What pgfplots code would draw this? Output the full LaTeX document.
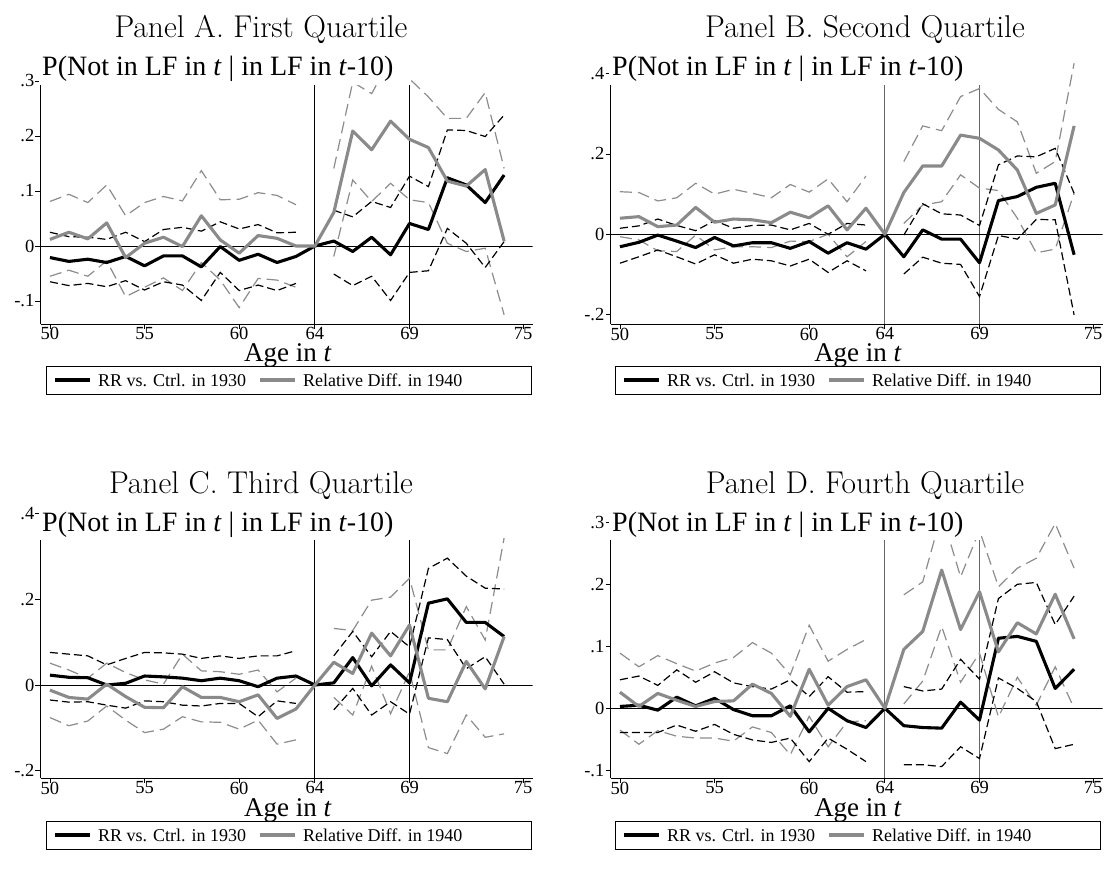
\documentclass[border=0pt]{standalone}
\usepackage{pgfplots}
\pgfplotsset{compat=1.18}
\usepackage{pgfplotstable}
\usepackage{fontspec}
\setmainfont{Liberation Serif}
\newcommand\lmtitle{\fontfamily{lmr}\fontsize{31.5}{34}\selectfont}
\newcommand\ytfont{\fontsize{28}{30}\selectfont}
\newcommand\xlfont{\fontsize{27}{29}\selectfont}
\newcommand\lgfont{\fontsize{18}{20}\selectfont}
\definecolor{sgray}{RGB}{138,138,138}
\definecolor{dgray}{RGB}{140,140,140}

% age b g bu bl gu gl
\pgfplotstableread{
age b g bu bl gu gl
50 -0.021 0.012 0.025 -0.065 0.081 -0.055
51 -0.028 0.025 0.017 -0.072 0.094 -0.044
52 -0.024 0.013 0.016 -0.068 0.079 -0.055
53 -0.030 0.042 0.012 -0.074 0.111 -0.027
54 -0.019 -0.021 0.025 -0.063 0.055 -0.092
55 -0.036 0.005 0.008 -0.080 0.079 -0.075
56 -0.018 0.016 0.030 -0.065 0.090 -0.058
57 -0.018 -0.001 0.034 -0.071 0.082 -0.081
58 -0.038 0.055 0.027 -0.099 0.137 -0.030
59 -0.001 0.011 0.044 -0.048 0.084 -0.062
60 -0.026 -0.013 0.031 -0.081 0.085 -0.112
61 -0.015 0.019 0.039 -0.071 0.097 -0.059
62 -0.030 0.014 0.024 -0.081 0.092 -0.062
63 -0.019 0.000 0.025 -0.068 0.075 -0.075
64 0 0 nan nan nan nan
65 0.009 0.061 0.065 -0.051 0.141 -0.019
66 -0.010 0.209 0.053 -0.072 0.298 0.120
67 0.016 0.175 0.081 -0.055 0.277 0.081
68 -0.016 0.227 0.070 -0.099 0.340 0.114
69 0.041 0.194 0.127 -0.048 0.304 0.084
70 0.030 0.179 0.108 -0.045 0.271 0.079
71 0.124 0.118 0.211 0.032 0.232 0.005
72 0.111 0.109 0.210 0.005 0.232 -0.010
73 0.079 0.139 0.199 -0.039 0.279 -0.004
74 0.129 0.009 0.238 0.008 0.141 -0.125
}\tA

\pgfplotstableread{
age b g bu bl gu gl
50 -0.031 0.040 0.015 -0.072 0.106 -0.006
51 -0.020 0.044 0.021 -0.056 0.104 -0.014
52 -0.002 0.019 0.038 -0.039 0.083 -0.041
53 -0.017 0.023 0.022 -0.056 0.091 -0.043
54 -0.033 0.067 0.009 -0.074 0.127 -0.002
55 -0.008 0.030 0.034 -0.051 0.100 -0.039
56 -0.029 0.038 0.015 -0.072 0.112 -0.031
57 -0.021 0.036 0.022 -0.062 0.102 -0.031
58 -0.021 0.029 0.023 -0.066 0.091 -0.033
59 -0.035 0.055 0.011 -0.079 0.124 -0.017
60 -0.018 0.041 0.027 -0.062 0.105 -0.018
61 -0.047 0.071 0.000 -0.095 0.138 0.000
62 -0.021 0.011 0.027 -0.066 0.081 -0.056
63 -0.037 0.065 0.023 -0.091 0.145 -0.018
64 0 0 nan nan nan nan
65 -0.056 0.104 -0.002 -0.099 0.181 0.027
66 0.011 0.170 0.076 -0.057 0.270 0.073
67 -0.012 0.170 0.051 -0.072 0.258 0.081
68 -0.012 0.247 0.048 -0.075 0.343 0.148
69 -0.071 0.239 0.022 -0.155 0.363 0.115
70 0.084 0.210 0.173 -0.003 0.311 0.109
71 0.094 0.160 0.195 -0.012 0.280 0.040
72 0.117 0.052 0.193 0.037 0.152 -0.046
73 0.127 0.073 0.214 0.036 0.181 -0.037
74 -0.051 0.270 0.102 -0.201 0.426 0.102
}\tB

\pgfplotstableread{
age b g bu bl gu gl
50 0.023 -0.012 0.076 -0.035 0.051 -0.076
51 0.018 -0.029 0.072 -0.040 0.035 -0.095
52 0.017 -0.033 0.068 -0.039 0.016 -0.084
53 0.000 0.002 0.047 -0.047 0.051 -0.049
54 0.004 -0.027 0.062 -0.054 0.029 -0.082
55 0.021 -0.052 0.076 -0.037 0.012 -0.111
56 0.019 -0.053 0.075 -0.039 0.002 -0.103
57 0.016 -0.004 0.072 -0.047 0.072 -0.074
58 0.010 -0.029 0.062 -0.049 0.033 -0.086
59 0.016 -0.029 0.068 -0.043 0.031 -0.087
60 0.010 -0.039 0.062 -0.043 0.025 -0.103
61 -0.004 -0.023 0.068 -0.074 0.035 -0.082
62 0.016 -0.078 0.068 -0.037 -0.016 -0.138
63 0.021 -0.056 0.080 -0.043 0.016 -0.128
64 0 0 nan nan nan nan
65 0.005 0.053 0.068 -0.058 0.132 -0.029
66 0.064 0.027 0.125 -0.008 0.127 -0.070
67 -0.002 0.121 0.066 -0.070 0.198 0.044
68 0.047 0.068 0.125 -0.039 0.205 -0.067
69 0.005 0.140 0.089 -0.068 0.249 0.031
70 0.191 -0.031 0.272 0.110 0.082 -0.146
71 0.201 -0.039 0.296 0.106 0.082 -0.160
72 0.146 0.055 0.254 0.038 0.183 -0.070
73 0.146 -0.009 0.226 0.066 0.105 -0.122
74 0.113 0.113 0.224 0.002 0.343 -0.114
}\tC

\pgfplotstableread{
age b g bu bl gu gl
50 0.003 0.026 0.046 -0.039 0.089 -0.035
51 0.005 0.003 0.052 -0.039 0.067 -0.058
52 -0.003 0.024 0.037 -0.039 0.085 -0.036
53 0.018 0.013 0.062 -0.027 0.072 -0.045
54 0.004 0.003 0.042 -0.037 0.060 -0.048
55 0.016 0.011 0.059 -0.026 0.073 -0.048
56 -0.002 0.012 0.041 -0.042 0.082 -0.053
57 -0.012 0.039 0.035 -0.051 0.106 -0.030
58 -0.012 0.024 0.031 -0.055 0.089 -0.039
59 0.004 -0.013 0.046 -0.048 0.054 -0.075
60 -0.038 0.063 0.019 -0.086 0.134 -0.013
61 0.000 0.005 0.051 -0.048 0.076 -0.062
62 -0.020 0.035 0.026 -0.066 0.095 -0.022
63 -0.031 0.046 0.027 -0.086 0.111 -0.020
64 0 0 nan nan nan nan
65 -0.028 0.095 0.035 -0.091 0.183 0.007
66 -0.031 0.124 0.028 -0.091 0.204 0.044
67 -0.032 0.223 0.031 -0.094 0.314 0.132
68 0.010 0.127 0.079 -0.062 0.212 0.042
69 -0.019 0.188 0.047 -0.081 0.287 0.089
70 0.113 0.091 0.177 0.049 0.196 -0.014
71 0.116 0.138 0.200 0.032 0.226 0.050
72 0.108 0.120 0.203 0.011 0.242 0.005
73 0.032 0.184 0.135 -0.065 0.298 0.067
74 0.063 0.112 0.181 -0.058 0.226 0.000
}\tD

\pgfplotsset{
  stata/.style={
    scale only axis, width=492pt,
    xmin=49.5, xmax=75.5,
    axis x line*=bottom, axis y line*=left,
    axis line style={black, line width=0.8pt},
    tick align=outside, major tick length=5pt,
    tick style={black, line width=0.8pt},
    xtick={50,55,60,64,69,75},
    xticklabels={50,55,60,64,69,75},
    ticklabel style={font=\fontsize{18.5}{20}\selectfont},
    xticklabel style={inner sep=0pt, yshift=1.5pt},
    yticklabel style={inner sep=0pt, xshift=-1pt},
    unbounded coords=jump,
    anchor=south west,
  },
  bsolid/.style={black, line width=3.1pt, line join=round},
  gsolid/.style={sgray, line width=3.1pt, line join=round},
  bdash/.style={black, line width=1.2pt, dash pattern=on 8pt off 4pt},
  gdash/.style={dgray, line width=1.2pt, dash pattern=on 12pt off 6pt},
}

\newcommand\panelplots[3]{%
  \addplot[#3, line width=0.8pt] coordinates {(64,#2) (64,10)};
  \addplot[#3, line width=0.8pt] coordinates {(69,#2) (69,10)};
  \addplot[black, line width=0.8pt] coordinates {(49.5,0) (75.5,0)};
  \addplot[gdash] table[x=age,y=gu] {#1};
  \addplot[gdash] table[x=age,y=gl] {#1};
  \addplot[bdash] table[x=age,y=bu] {#1};
  \addplot[bdash] table[x=age,y=bl] {#1};
  \addplot[bsolid] table[x=age,y=b] {#1};
  \addplot[gsolid] table[x=age,y=g] {#1};
}

\newcommand\legendbox[2]{%
  \begin{scope}[shift={(#1,#2)}]
    \draw[black, line width=0.8pt] (0,0) rectangle (485pt,-28pt);
    \draw[black, line width=3.1pt] (9pt,-14pt) -- (44pt,-14pt);
    \node[anchor=base west, inner sep=0pt, font=\lgfont] at (52pt,-20.5pt) {RR vs. Ctrl. in 1930};
    \draw[sgray, line width=3.1pt] (214pt,-14pt) -- (249pt,-14pt);
    \node[anchor=base west, inner sep=0pt, font=\lgfont] at (257pt,-20.5pt) {Relative Diff. in 1940};
  \end{scope}
}

\newcommand\ytitle[2]{%
  \fill[white] (#1-1.5pt,#2) rectangle ++(372pt,41pt);
  \node[anchor=base west, inner sep=0pt, font=\ytfont] at (#1+1.5pt,#2+9pt) {P(Not in LF in \textit{t} | in LF in \textit{t}-10)};
}

\begin{document}
\begin{tikzpicture}
\path[use as bounding box] (0,0) rectangle (1110pt,-882pt);

% Panel A
\begin{axis}[stata, at={(40.5pt,-324pt)}, height=243pt,
  ymin=-0.1418, ymax=0.3,
  ytick={-0.1,0,0.1,0.2,0.3}, yticklabels={-.1,0,.1,.2,.3}]
  \panelplots{\tA}{-0.1418}{black}
\end{axis}

% Panel B
\begin{axis}[stata, at={(610.5pt,-324pt)}, height=270.4pt,
  ymin=-0.2234, ymax=0.45,
  ytick={-0.2,0,0.2,0.4}, yticklabels={-.2,0,.2,.4}]
  \panelplots{\tB}{-0.2234}{black!60}
\end{axis}

% Panel C
\begin{axis}[stata, at={(40.5pt,-778pt)}, height=273pt,
  ymin=-0.217, ymax=0.42,
  ytick={-0.2,0,0.2,0.4}, yticklabels={-.2,0,.2,.4}]
  \panelplots{\tC}{-0.217}{black}
\end{axis}

% Panel D
\begin{axis}[stata, at={(610.5pt,-778pt)}, height=274.3pt,
  ymin=-0.1124, ymax=0.33,
  ytick={-0.1,0,0.1,0.2,0.3}, yticklabels={-.1,0,.1,.2,.3}]
  \panelplots{\tD}{-0.1124}{black!60}
\end{axis}

% y titles with white boxes
\ytitle{40.5pt}{-85pt}
\ytitle{610.5pt}{-85pt}
\ytitle{40.5pt}{-540pt}
\ytitle{610.5pt}{-540pt}

% panel titles
\node[anchor=base, inner sep=0pt, font=\lmtitle] at (261pt,-38pt) {Panel A. First Quartile};
\node[anchor=base, inner sep=0pt, font=\lmtitle] at (865pt,-38pt) {Panel B. Second Quartile};
\node[anchor=base, inner sep=0pt, font=\lmtitle] at (261pt,-493pt) {Panel C. Third Quartile};
\node[anchor=base, inner sep=0pt, font=\lmtitle] at (865pt,-493pt) {Panel D. Fourth Quartile};

% x labels
\node[anchor=base, inner sep=0pt, font=\xlfont] at (288pt,-361pt) {Age in \textit{t}};
\node[anchor=base, inner sep=0pt, font=\xlfont] at (858pt,-361pt) {Age in \textit{t}};
\node[anchor=base, inner sep=0pt, font=\xlfont] at (288pt,-816pt) {Age in \textit{t}};
\node[anchor=base, inner sep=0pt, font=\xlfont] at (858pt,-816pt) {Age in \textit{t}};

% legends
\legendbox{46pt}{-366pt}
\legendbox{615pt}{-366pt}
\legendbox{46pt}{-821pt}
\legendbox{615pt}{-821pt}
\end{tikzpicture}
\end{document}
